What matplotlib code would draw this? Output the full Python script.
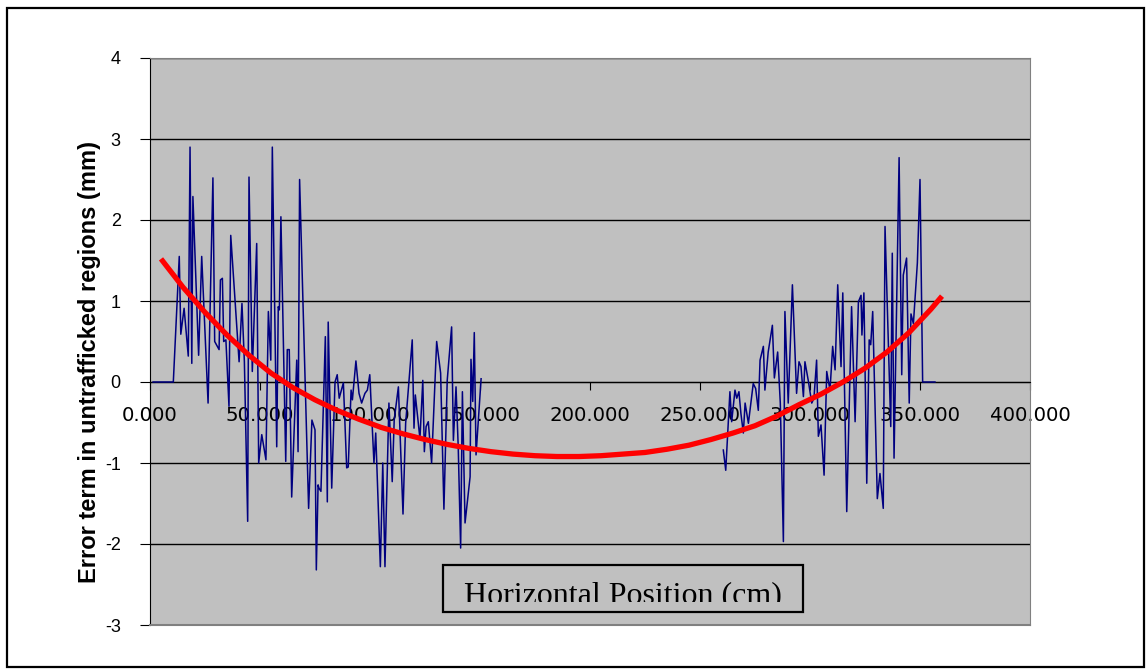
import matplotlib
matplotlib.use("Agg")
import matplotlib.pyplot as plt
from matplotlib.patches import Rectangle

plt.rcParams['axes.unicode_minus'] = False

# noisy error term, left part (cm, mm)
left_x = [1.4, 10.6, 13.3, 14.0, 15.5, 17.4, 18.2, 19.0, 19.5, 22.1, 23.5, 26.4, 28.6, 29.4,
          31.4, 32.0, 32.9, 33.5, 34.5, 35.9, 36.7, 40.5, 41.8, 42.9, 44.4, 45.0, 46.5, 48.5,
          49.4, 50.8, 52.7, 53.8, 54.9, 55.6, 57.6, 58.3, 58.8, 59.5, 61.7, 62.4, 63.3, 64.4,
          66.7, 67.3, 68.0, 72.1, 73.6, 75.0, 75.6, 76.4, 76.8, 77.7, 79.7, 80.6, 81.0, 82.6,
          84.1, 85.1, 86.0, 87.9, 89.4, 90.1, 91.4, 92.0, 93.6, 95.0, 96.2, 97.7, 98.8, 99.9,
          101.8, 102.6, 104.7, 105.8, 106.8, 108.6, 110.1, 111.0, 112.9, 115.0, 116.2, 119.2,
          120.0, 120.6, 122.7, 124.0, 124.7, 125.5, 126.5, 128.0, 130.3, 132.1, 133.6, 135.1,
          137.1, 137.9, 139.1, 140.1, 141.2, 142.0, 143.2, 145.5, 145.9, 146.7, 147.4, 148.2,
          150.5]
left_y = [0.0, 0.0, 1.55, 0.59, 0.91, 0.32, 2.9, 0.23, 2.29, 0.33, 1.55, -0.26, 2.52, 0.5,
          0.4, 1.26, 1.28, 0.5, 0.52, -0.3, 1.81, 0.25, 0.97, 0.25, -1.72, 2.53, 0.13, 1.71,
          -1.0, -0.65, -0.96, 0.87, 0.27, 2.9, -0.8, 0.93, 0.89, 2.04, -0.98, 0.4, 0.4, -1.42,
          0.27, -0.86, 2.5, -1.56, -0.47, -0.59, -2.32, -1.27, -1.31, -1.35, 0.56, -1.48, 0.74, -1.31,
          0.0, 0.09, -0.2, -0.01, -1.06, -1.05, -0.1, -0.22, 0.26, -0.14, -0.26, -0.14, -0.1, 0.09,
          -1.0, -0.63, -2.28, -1.0, -2.28, -0.26, -1.23, -0.47, -0.06, -1.63, -0.51, 0.52,
          -0.57, -0.16, -0.7, 0.02, -0.86, -0.55, -0.49, -1.0, 0.5, 0.11, -1.57, 0.02,
          0.68, -0.72, -0.06, -0.8, -2.05, -0.12, -1.74, -1.17, 0.28, -0.24, 0.61, -0.9,
          0.04]

# noisy error term, right part
right_x = [260.6, 261.7, 263.6, 264.4, 265.9, 266.7, 267.7, 268.6, 269.7, 270.5, 272.0, 274.2,
           275.3, 276.5, 277.3, 278.8, 279.5, 281.0, 282.9, 283.8, 285.3, 286.5, 287.9, 288.6,
           290.1, 292.0, 293.9, 295.0, 295.9, 297.0, 297.7, 299.2, 300.8, 301.8, 303.0, 303.8,
           305.0, 306.4, 307.6, 309.1, 310.3, 311.4, 312.6, 314.1, 314.9, 316.7, 318.9, 320.5,
           322.0, 323.2, 323.6, 324.5, 325.8, 326.9, 327.6, 328.5, 330.6, 331.8, 333.3, 334.1,
           336.7, 337.4, 338.2, 340.5, 341.7, 342.4, 343.9, 345.1, 345.9, 347.0, 348.8, 350.0,
           351.2, 356.8]
right_y = [-0.84, -1.09, -0.12, -0.49, -0.1, -0.2, -0.12, -0.39, -0.63, -0.26, -0.51, -0.02,
           -0.08, -0.35, 0.27, 0.44, -0.1, 0.37, 0.7, 0.05, 0.37, -0.26, -1.97, 0.87,
           -0.26, 1.2, -0.14, 0.25, 0.19, -0.18, 0.25, 0.02, -0.26, -0.2, 0.27, -0.67,
           -0.53, -1.15, 0.13, -0.1, 0.44, 0.15, 1.2, 0.19, 1.1, -1.6, 0.93, -0.49,
           0.99, 1.07, 0.58, 1.1, -1.25, 0.52, 0.46, 0.87, -1.44, -1.13, -1.56, 1.92,
           -0.55, 1.59, -0.94, 2.77, 0.09, 1.32, 1.53, -0.26, 0.84, 0.72, 1.47, 2.5,
           0.0, 0.0]

# trend line
trend_x = [5, 15, 25, 35, 45, 55, 65, 75, 85, 95, 105, 115, 125, 135, 145, 155, 165, 175, 185,
           195, 205, 215, 225, 235, 245, 255, 265, 275, 285, 295, 305, 315, 325, 335, 345,
           355, 360]
trend_y = [1.52, 1.17, 0.86, 0.58, 0.33, 0.11, -0.07, -0.22, -0.35, -0.46, -0.56, -0.64,
           -0.71, -0.77, -0.82, -0.86, -0.89, -0.91, -0.92, -0.92, -0.91, -0.89, -0.87, -0.83,
           -0.78, -0.71, -0.63, -0.54, -0.42, -0.28, -0.15, 0.0, 0.17, 0.37, 0.61, 0.90, 1.06]

x_ticks = [0, 50, 100, 150, 200, 250, 300, 350, 400]
x_labels = ['0.000', '50.000', '100.000', '150.000', '200.000', '250.000', '300.000',
            '350.000', '400.000']
y_ticks = [-3, -2, -1, 0, 1, 2, 3, 4]

W, H = 1147, 671
def fx(px):
    return px / W
def fy(py):
    return 1 - py / H

fig = plt.figure(figsize=(W / 100, H / 100), dpi=100)
ax = fig.add_axes([fx(150), fy(625), fx(1030) - fx(150), fy(58) - fy(625)])
ax.set_facecolor('#C0C0C0')

for v in y_ticks:
    ax.axhline(v, color='black', lw=1.0, zorder=1)

ax.plot(left_x, left_y, color='#000080', lw=1.1, zorder=3)
ax.plot(right_x, right_y, color='#000080', lw=1.1, zorder=3)
ax.plot(trend_x, trend_y, color='#FF0000', lw=3.8, zorder=4, solid_capstyle='butt')

ax.set_xlim(0, 400)
ax.set_ylim(-3, 4)
ax.spines['bottom'].set_position(('data', 0))
ax.spines['bottom'].set_color('black')
ax.spines['left'].set_color('black')
ax.spines['top'].set_color('#808080')
ax.spines['right'].set_color('#808080')
ax.axhline(-3, color='#808080', lw=1.5, zorder=5, clip_on=False)

ax.set_xticks(x_ticks)
ax.set_xticklabels(x_labels, fontsize=14.2, family='DejaVu Sans')
ax.tick_params(axis='x', direction='out', length=6, pad=11, color='black')
ax.set_yticks(y_ticks)
ax.set_yticklabels([str(v) for v in y_ticks], fontsize=13, family='Liberation Sans')
ax.tick_params(axis='y', direction='out', length=7, pad=14, color='black')

fig.text(fx(90), fy(362), 'Error term in untrafficked regions (mm)', rotation=90,
         ha='center', va='center', fontsize=17, fontweight='bold', family='Liberation Sans')

# x axis title box (text clipped at the bottom)
fig.text(fx(623), fy(603), 'Horizontal Position (cm)', ha='center', va='baseline',
         fontsize=23, family='Liberation Serif', zorder=3)
fig.patches.append(Rectangle((fx(444), fy(611)), fx(802) - fx(444), fy(602) - fy(611),
                             transform=fig.transFigure, facecolor='#C0C0C0', edgecolor='none',
                             zorder=4))
fig.patches.append(Rectangle((fx(443), fy(612)), fx(803) - fx(443), fy(565) - fy(612),
                             transform=fig.transFigure, facecolor='none', edgecolor='black',
                             lw=1.6, zorder=5))

# outer chart border
fig.patches.append(Rectangle((fx(7), fy(667)), fx(1144) - fx(7), fy(8) - fy(667),
                             transform=fig.transFigure, facecolor='none', edgecolor='black',
                             lw=1.6, zorder=5))

fig.savefig('out.png', dpi=100)
